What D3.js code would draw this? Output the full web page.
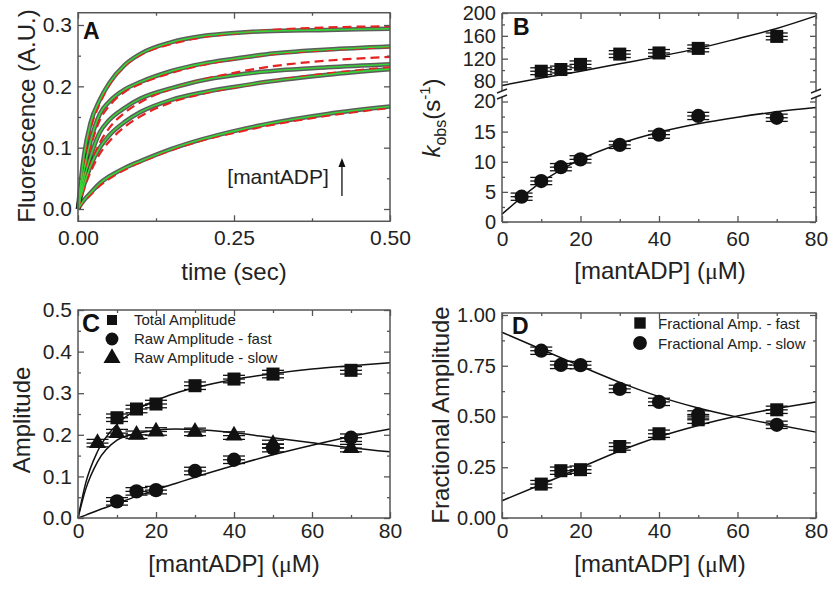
<!DOCTYPE html>
<html>
<head>
<meta charset="utf-8">
<script src="https://cdn.jsdelivr.net/npm/d3@7"></script>
<style>
    body { margin: 0; background: #fff; }
    svg { font-family: "Liberation Sans", Arial, sans-serif; }
</style>
</head>
<body>
<div id="chart"></div>
<script>
// ---- Panel A: fluorescence transients ----
const timePoints = [0, 0.005, 0.01, 0.02, 0.035, 0.05, 0.075, 0.1, 0.15, 0.2, 0.25, 0.3, 0.4, 0.5];
const green1 = [0, 0.05, 0.09, 0.14, 0.178, 0.205, 0.235, 0.253, 0.272, 0.282, 0.287, 0.29, 0.292, 0.294];
const red1   = [0, 0.045, 0.082, 0.13, 0.172, 0.202, 0.233, 0.251, 0.269, 0.28, 0.286, 0.291, 0.296, 0.298];
const green2 = [0, 0.035, 0.065, 0.11, 0.155, 0.175, 0.195, 0.207, 0.225, 0.237, 0.245, 0.252, 0.26, 0.265];
const red2   = [0, 0.032, 0.058, 0.1, 0.145, 0.168, 0.191, 0.204, 0.222, 0.235, 0.244, 0.251, 0.259, 0.264];
const green3 = [0, 0.028, 0.05, 0.085, 0.125, 0.145, 0.165, 0.18, 0.197, 0.21, 0.218, 0.224, 0.231, 0.236];
const red3   = [0, 0.022, 0.04, 0.072, 0.108, 0.132, 0.157, 0.174, 0.196, 0.211, 0.222, 0.231, 0.242, 0.248];
const green4 = [0, 0.022, 0.04, 0.07, 0.1, 0.12, 0.142, 0.158, 0.178, 0.19, 0.199, 0.207, 0.219, 0.228];
const red4   = [0, 0.018, 0.034, 0.06, 0.09, 0.11, 0.134, 0.151, 0.174, 0.188, 0.198, 0.207, 0.221, 0.231];
const green5 = [0, 0.008, 0.015, 0.026, 0.042, 0.053, 0.067, 0.078, 0.098, 0.114, 0.127, 0.138, 0.155, 0.167];
const red5   = [0, 0.007, 0.013, 0.023, 0.038, 0.049, 0.064, 0.076, 0.096, 0.112, 0.124, 0.135, 0.152, 0.165];

// ---- Panel B: kobs vs [mantADP] ----
const concFastB = [10, 15, 20, 30, 40, 50, 70];
const kFast = [98, 101, 110, 128, 130, 138, 159];
const kFastErr = [6, 6, 6, 6, 6, 6, 6];
const concSlowB = [5, 10, 15, 20, 30, 40, 50, 70];
const kSlow = [4.2, 6.8, 9.1, 10.4, 12.8, 14.5, 17.6, 17.3];
const kSlowErr = [0.6, 0.6, 0.6, 0.6, 0.6, 0.6, 0.6, 0.6];
const fitConcB = [0, 10, 20, 30, 40, 50, 60, 70, 80];
const kFastFit = [73, 86, 98, 111, 124, 138, 155, 173, 195];
const kSlowFit = [1.3, 6.6, 10.4, 13.0, 14.9, 16.3, 17.4, 18.3, 19.0];

// ---- Panel C: raw amplitudes ----
const concC = [10, 15, 20, 30, 40, 50, 70];
const totalAmp = [0.241, 0.262, 0.274, 0.318, 0.334, 0.346, 0.355];
const fastAmp = [0.04, 0.064, 0.067, 0.113, 0.14, 0.168, 0.193];
const concSlowC = [5, 10, 15, 20, 30, 40, 50, 70];
const slowAmp = [0.18, 0.204, 0.2, 0.208, 0.207, 0.198, 0.178, 0.168];
const ampErr = [0.009, 0.009, 0.009, 0.009, 0.009, 0.009, 0.009, 0.009];
const fitConcC = [0, 2, 5, 10, 15, 20, 25, 30, 40, 50, 60, 70, 80];
const totalFit = [0, 0.085, 0.16, 0.225, 0.26, 0.283, 0.3, 0.313, 0.333, 0.347, 0.358, 0.366, 0.373];
const slowFit  = [0, 0.07, 0.135, 0.187, 0.203, 0.211, 0.214, 0.213, 0.205, 0.193, 0.181, 0.169, 0.159];
const fastFit  = [0, 0.007, 0.018, 0.035, 0.052, 0.068, 0.083, 0.098, 0.126, 0.152, 0.175, 0.196, 0.214];
const legendC = ['Total Amplitude', 'Raw Amplitude - fast', 'Raw Amplitude - slow'];

// ---- Panel D: fractional amplitudes ----
const concD = [10, 15, 20, 30, 40, 50, 70];
const fracFast = [0.167, 0.233, 0.238, 0.352, 0.415, 0.484, 0.533];
const fracSlow = [0.824, 0.754, 0.753, 0.636, 0.572, 0.51, 0.459];
const fracErr = [0.018, 0.018, 0.018, 0.018, 0.018, 0.018, 0.018];
const fitConcD = [0, 10, 20, 30, 40, 50, 60, 70, 80];
const fracFastFit = [0.085, 0.165, 0.248, 0.33, 0.4, 0.456, 0.502, 0.54, 0.572];
const fracSlowFit = [0.915, 0.831, 0.748, 0.668, 0.598, 0.542, 0.497, 0.459, 0.423];
const legendD = ['Fractional Amp. - fast', 'Fractional Amp. - slow'];

const xTicksConc = [0, 20, 40, 60, 80];
const xMinorConc = [10, 30, 50, 70];

// ---- Setup ----
const width = 830, height = 589;
const frameColor = '#555';
const textColor = '#222';

const svg = d3.select('#chart').append('svg')
    .attr('width', width)
    .attr('height', height);

const zip = (xs, ys) => xs.map((x, i) => [x, ys[i]]);

const styleAxis = size => sel => {
    sel.select('.domain').remove();
    sel.selectAll('line').attr('stroke', frameColor).attr('stroke-width', 1.3);
    sel.selectAll('text').attr('fill', textColor).attr('font-size', size || 21)
        .attr('font-family', '"Liberation Sans", Arial, sans-serif');
};

// ticks on top and bottom, pointing inward; labels on bottom only
function xTicks(g, x, yb, yt, o) {
    g.append('g').attr('transform', `translate(0,${yb})`)
        .call(d3.axisBottom(x).tickValues(o.xMajor).tickSize(-6).tickPadding(o.xPad).tickFormat(o.xFmt)).call(styleAxis());
    g.append('g').attr('transform', `translate(0,${yb})`)
        .call(d3.axisBottom(x).tickValues(o.xMinor).tickSize(-3).tickFormat('')).call(styleAxis());
    g.append('g').attr('transform', `translate(0,${yt})`)
        .call(d3.axisTop(x).tickValues(o.xMajor).tickSize(-6).tickFormat('')).call(styleAxis());
    g.append('g').attr('transform', `translate(0,${yt})`)
        .call(d3.axisTop(x).tickValues(o.xMinor).tickSize(-3).tickFormat('')).call(styleAxis());
}

// ticks on left and right, pointing inward; labels on left only
function yTicks(g, x, y, major, minor, fmt, size) {
    const [xl, xr] = x.range();
    g.append('g').attr('transform', `translate(${xl},0)`)
        .call(d3.axisLeft(y).tickValues(major).tickSize(-6).tickPadding(6).tickFormat(fmt)).call(styleAxis(size));
    g.append('g').attr('transform', `translate(${xl},0)`)
        .call(d3.axisLeft(y).tickValues(minor).tickSize(-3).tickFormat('')).call(styleAxis());
    g.append('g').attr('transform', `translate(${xr},0)`)
        .call(d3.axisRight(y).tickValues(major).tickSize(-6).tickFormat('')).call(styleAxis());
    g.append('g').attr('transform', `translate(${xr},0)`)
        .call(d3.axisRight(y).tickValues(minor).tickSize(-3).tickFormat('')).call(styleAxis());
}

function box(g, x, yb, yt) {
    const [xl, xr] = x.range();
    g.append('rect')
        .attr('x', xl).attr('y', yt)
        .attr('width', xr - xl).attr('height', yb - yt)
        .attr('fill', 'none').attr('stroke', frameColor).attr('stroke-width', 1.5);
}

function curve(g, x, y, pts, stroke, sw, dash) {
    return g.append('path')
        .datum(pts)
        .attr('d', d3.line().x(d => x(d[0])).y(d => y(d[1])).curve(d3.curveMonotoneX))
        .attr('fill', 'none')
        .attr('stroke', stroke)
        .attr('stroke-width', sw)
        .attr('stroke-dasharray', dash || null);
}

// markers with vertical error caps and a short horizontal bar
function markers(g, x, y, xs, ys, errs, type, size) {
    const pts = xs.map((c, i) => ({ c, v: ys[i], e: errs[i] }));
    const grp = g.append('g');
    const bars = grp.selectAll('g.err').data(pts).join('g').attr('class', 'err');
    bars.append('line')
        .attr('x1', d => x(d.c) - 11).attr('x2', d => x(d.c) + 11)
        .attr('y1', d => y(d.v)).attr('y2', d => y(d.v))
        .attr('stroke', '#111').attr('stroke-width', 1.3);
    [1, -1].forEach(s => {
        bars.append('line')
            .attr('x1', d => x(d.c) - 11).attr('x2', d => x(d.c) + 11)
            .attr('y1', d => y(d.v + s * d.e)).attr('y2', d => y(d.v + s * d.e))
            .attr('stroke', '#111').attr('stroke-width', 1.3);
        bars.append('line')
            .attr('x1', d => x(d.c)).attr('x2', d => x(d.c))
            .attr('y1', d => y(d.v)).attr('y2', d => y(d.v + s * d.e))
            .attr('stroke', '#111').attr('stroke-width', 1.3);
    });
    grp.selectAll('path.mk').data(pts).join('path').attr('class', 'mk')
        .attr('transform', d => `translate(${x(d.c)},${y(d.v)})`)
        .attr('d', d3.symbol().type(type).size(size))
        .attr('fill', '#111');
}

function title(x, y, txt, rot) {
    return svg.append('text')
        .attr('transform', `translate(${x},${y})` + (rot ? ' rotate(-90)' : ''))
        .attr('text-anchor', 'middle')
        .attr('font-size', 24)
        .attr('fill', textColor)
        .text(txt);
}

function concTitle(x, y) {
    const t = svg.append('text')
        .attr('x', x).attr('y', y)
        .attr('text-anchor', 'middle')
        .attr('font-size', 24)
        .attr('fill', textColor);
    t.append('tspan').text('[mantADP] (');
    t.append('tspan').attr('font-family', '"Liberation Serif", serif').text('\u03bc');
    t.append('tspan').text('M)');
}

function panelLetter(x, y, txt, size) {
    svg.append('text').attr('x', x).attr('y', y)
        .attr('font-size', size || 23).attr('font-weight', 'bold')
        .attr('fill', '#111').text(txt);
}

// ================= Panel A =================
const xA = d3.scaleLinear().domain([0, 0.5]).range([78, 390]);
const yA = d3.scaleLinear().domain([0, 0.3]).range([209, 25]);
const gA = svg.append('g');
const greensA = [green1, green2, green3, green4, green5];
const redsA = [red1, red2, red3, red4, red5];
// noisy raw traces shown as a dark band under the fits
greensA.forEach(arr => curve(gA, xA, yA, zip(timePoints, arr), '#1e1e1e', 4.5).attr('opacity', 0.72));
redsA.forEach(arr => curve(gA, xA, yA, zip(timePoints, arr), '#e52222', 2.2, '9,5'));
greensA.forEach(arr => curve(gA, xA, yA, zip(timePoints, arr), '#37d437', 1.6));
xTicks(gA, xA, yA(-0.02), yA(0.32), {
    xMajor: [0, 0.25, 0.5], xMinor: [0.125, 0.375], xFmt: d3.format('.2f'), xPad: 9
});
yTicks(gA, xA, yA, [0, 0.1, 0.2, 0.3], [0.05, 0.15, 0.25], d3.format('.1f'));
box(gA, xA, yA(-0.02), yA(0.32));
panelLetter(83, 39, 'A');
svg.append('text').attr('x', xA(0.402)).attr('y', yA(0.04))
    .attr('text-anchor', 'end').attr('font-size', 21).attr('fill', textColor).text('[mantADP]');
svg.append('line')
    .attr('x1', xA(0.423)).attr('x2', xA(0.423))
    .attr('y1', yA(0.021)).attr('y2', yA(0.078))
    .attr('stroke', '#111').attr('stroke-width', 1.3);
svg.append('path')
    .attr('d', `M${xA(0.423)},${yA(0.083)} l-3.5,9 l7,0 z`)
    .attr('fill', '#111');
title(26, 116, 'Fluorescence (A.U.)', true).attr('dominant-baseline', 'central');
title(234, 280, 'time (sec)');

// ================= Panel B =================
const xB = d3.scaleLinear().domain([0, 80]).range([502, 816]);
const yBup = d3.scaleLinear().domain([80, 200]).range([81.5, 13]);
const yBlo = d3.scaleLinear().domain([0, 20]).range([222, 101.5]);
const gB = svg.append('g');
curve(gB, xB, yBup, zip(fitConcB, kFastFit), '#111', 1.5);
curve(gB, xB, yBlo, zip(fitConcB, kSlowFit), '#111', 1.5);
markers(gB, xB, yBup, concFastB, kFast, kFastErr, d3.symbolSquare, 170);
markers(gB, xB, yBlo, concSlowB, kSlow, kSlowErr, d3.symbolCircle, 160);
xTicks(gB, xB, yBlo(0), yBup(200), {
    xMajor: xTicksConc, xMinor: xMinorConc, xFmt: d3.format('d'), xPad: 9
});
yTicks(gB, xB, yBlo, [0, 5, 10, 15, 20], [2.5, 7.5, 12.5, 17.5], d3.format('d'), 20);
yTicks(gB, xB, yBup, [80, 120, 160, 200], [100, 140, 180], d3.format('d'), 20);
// frame with axis break
const breakTop = 91, breakBot = 97;
const frameB = gB.append('g').attr('stroke', frameColor).attr('stroke-width', 1.5).attr('fill', 'none');
frameB.append('line').attr('x1', xB(0)).attr('x2', xB(80)).attr('y1', yBup(200)).attr('y2', yBup(200));
frameB.append('line').attr('x1', xB(0)).attr('x2', xB(80)).attr('y1', yBlo(0)).attr('y2', yBlo(0));
[xB(0), xB(80)].forEach(xx => {
    frameB.append('line').attr('x1', xx).attr('x2', xx).attr('y1', yBup(200)).attr('y2', breakTop);
    frameB.append('line').attr('x1', xx).attr('x2', xx).attr('y1', breakBot).attr('y2', yBlo(0));
    [breakTop, breakBot].forEach(yy => {
        frameB.append('line').attr('x1', xx - 5).attr('x2', xx + 5)
            .attr('y1', yy + 2).attr('y2', yy - 2).attr('stroke', '#222');
    });
});
panelLetter(513, 35, 'B');
const kt = svg.append('text')
    .attr('transform', 'translate(440,118) rotate(-90)')
    .attr('text-anchor', 'middle')
    .attr('font-size', 24)
    .attr('fill', textColor);
kt.append('tspan').attr('font-style', 'italic').text('k');
kt.append('tspan').attr('font-size', 16).attr('dy', 6).text('obs');
kt.append('tspan').attr('dy', -6).text('(s');
kt.append('tspan').attr('font-size', 15).attr('dy', -10).text('-1');
kt.append('tspan').attr('dy', 10).text(')');
concTitle(660, 279);

// ================= Panel C =================
const xC = d3.scaleLinear().domain([0, 80]).range([78, 390]);
const yC = d3.scaleLinear().domain([0, 0.5]).range([518, 310]);
const gC = svg.append('g');
curve(gC, xC, yC, zip(fitConcC, totalFit), '#111', 1.5);
curve(gC, xC, yC, zip(fitConcC, slowFit), '#111', 1.5);
curve(gC, xC, yC, zip(fitConcC, fastFit), '#111', 1.5);
markers(gC, xC, yC, concC, totalAmp, ampErr, d3.symbolSquare, 170);
markers(gC, xC, yC, concSlowC, slowAmp, ampErr, d3.symbolTriangle, 125);
markers(gC, xC, yC, concC, fastAmp, ampErr, d3.symbolCircle, 160);
xTicks(gC, xC, yC(0), yC(0.5), {
    xMajor: xTicksConc, xMinor: xMinorConc, xFmt: d3.format('d'), xPad: 5
});
yTicks(gC, xC, yC, [0, 0.1, 0.2, 0.3, 0.4, 0.5], [0.05, 0.15, 0.25, 0.35, 0.45], d3.format('.1f'));
box(gC, xC, yC(0), yC(0.5));
panelLetter(82, 332, 'C', 25);
const legC = svg.append('g');
const symC = [d3.symbolSquare, d3.symbolCircle, d3.symbolTriangle];
const symSizeC = [100, 130, 125];
legendC.forEach((t, i) => {
    legC.append('path').attr('transform', `translate(112,${320 + i * 19})`)
        .attr('d', d3.symbol().type(symC[i]).size(symSizeC[i])).attr('fill', '#111');
    legC.append('text').attr('x', 134).attr('y', 325 + i * 19)
        .attr('font-size', 15).attr('fill', textColor).text(t);
});
title(21, 420, 'Amplitude', true).attr('dominant-baseline', 'central');
concTitle(234, 572);

// ================= Panel D =================
const xD = d3.scaleLinear().domain([0, 80]).range([502, 816]);
const yD = d3.scaleLinear().domain([0, 1]).range([518, 315]);
const gD = svg.append('g');
curve(gD, xD, yD, zip(fitConcD, fracSlowFit), '#111', 1.5);
curve(gD, xD, yD, zip(fitConcD, fracFastFit), '#111', 1.5);
markers(gD, xD, yD, concD, fracSlow, fracErr, d3.symbolCircle, 160);
markers(gD, xD, yD, concD, fracFast, fracErr, d3.symbolSquare, 170);
xTicks(gD, xD, yD(0), yD(1.01), {
    xMajor: xTicksConc, xMinor: xMinorConc, xFmt: d3.format('d'), xPad: 5
});
yTicks(gD, xD, yD, [0, 0.25, 0.5, 0.75, 1], [0.125, 0.375, 0.625, 0.875], d3.format('.2f'), 20);
box(gD, xD, yD(0), yD(1.01));
panelLetter(512, 334, 'D');
const legD = svg.append('g');
const symD = [d3.symbolSquare, d3.symbolCircle];
legendD.forEach((t, i) => {
    legD.append('path').attr('transform', `translate(640,${323 + i * 20})`)
        .attr('d', d3.symbol().type(symD[i]).size(i ? 150 : 130)).attr('fill', '#111');
    legD.append('text').attr('x', 658).attr('y', 329 + i * 20)
        .attr('font-size', 15).attr('fill', textColor).text(t);
});
title(440, 415, 'Fractional Amplitude', true).attr('dominant-baseline', 'central');
concTitle(660, 572);
</script>
</body>
</html>
